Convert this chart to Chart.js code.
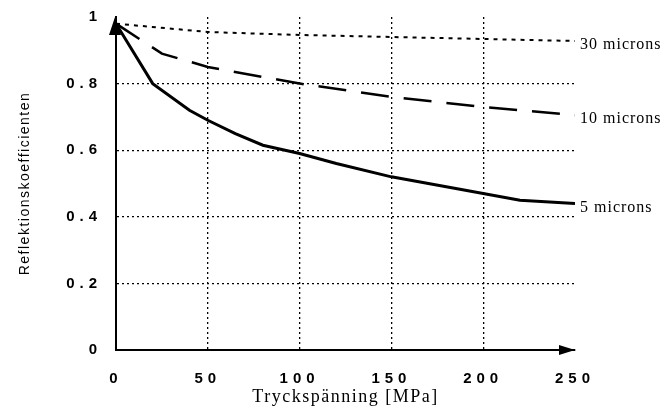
<!DOCTYPE html>
<html>
<head>
<meta charset="utf-8">
<script src="https://cdn.jsdelivr.net/npm/chart.js@4"></script>
<style>
  html, body { margin: 0; padding: 0; background: #fff; }
  canvas { display: block; }
</style>
</head>
<body>
<canvas id="chart" width="662" height="412"></canvas>
<script>
var micron5X = [0, 20, 40, 50, 65, 80, 100, 120, 150, 200, 220, 250];
var micron5Y = [0.98, 0.80, 0.72, 0.69, 0.65, 0.615, 0.59, 0.56, 0.52, 0.47, 0.45, 0.44];
var micron10X = [0, 25, 50, 100, 150, 200, 250];
var micron10Y = [0.98, 0.89, 0.85, 0.80, 0.76, 0.73, 0.705];
var micron30X = [0, 50, 100, 150, 200, 250];
var micron30Y = [0.98, 0.955, 0.946, 0.94, 0.934, 0.928];
var seriesNames = ["5 microns", "10 microns", "30 microns"];
var xTitle = "Tryckspänning [MPa]";
var yTitle = "Reflektionskoefficienten";

// the scanned original has widely spaced tick digits, so a linear scale that spaces its text
class SpacedScale extends Chart.LinearScale {
    drawLabels(area) {
        this.ctx.save();
        this.ctx.letterSpacing = "5px";
        super.drawLabels(area);
        this.ctx.restore();
    }
    drawTitle() {
        this.ctx.save();
        this.ctx.letterSpacing = "1.5px";
        super.drawTitle();
        this.ctx.restore();
    }
}
SpacedScale.id = "spaced";
SpacedScale.defaults = Chart.LinearScale.defaults;
Chart.register(SpacedScale);

function toPoints(xs, ys) {
    return xs.map((x, i) => ({x: x, y: ys[i]}));
}

function createSeries(name, xs, ys, width, dash) {
    return {
        label: name,
        data: toPoints(xs, ys),
        borderColor: "#000",
        borderWidth: width,
        borderDash: dash,
        pointRadius: 0,
        tension: 0,
        fill: false
    };
}

// arrows on the axes and the series names at the line ends
var decorations = {
    id: "decorations",
    afterDraw: function(chart) {
        var ctx = chart.ctx;
        var xs = chart.scales.x, ys = chart.scales.y;
        var x0 = xs.getPixelForValue(0), y0 = ys.getPixelForValue(0);
        var xEnd = xs.getPixelForValue(250), yTop = ys.getPixelForValue(1);
        ctx.save();
        ctx.fillStyle = "#000";
        ctx.beginPath();
        ctx.moveTo(x0 - 1, yTop);
        ctx.lineTo(x0 - 7, yTop + 18);
        ctx.lineTo(x0 + 5, yTop + 18);
        ctx.closePath();
        ctx.fill();
        ctx.beginPath();
        ctx.moveTo(xEnd, y0);
        ctx.lineTo(xEnd - 16, y0 - 5);
        ctx.lineTo(xEnd - 16, y0 + 5);
        ctx.closePath();
        ctx.fill();

        ctx.font = "16px 'Liberation Serif', 'Times New Roman', serif";
        ctx.letterSpacing = "1px";
        ctx.textAlign = "left";
        ctx.textBaseline = "middle";
        chart.data.datasets.forEach(ds => {
            var last = ds.data[ds.data.length - 1];
            ctx.fillText(ds.label, xs.getPixelForValue(last.x) + 5, ys.getPixelForValue(last.y) + 4);
        });
        ctx.restore();
    }
};

function gridColor(edge) {
    return c => (c.tick && (c.tick.value === 0 || c.tick.value === edge)) ? "rgba(0,0,0,0)" : "#000";
}

var tickFont = {family: "'Liberation Sans', Arial, sans-serif", size: 15, weight: "bold"};

new Chart(document.getElementById("chart").getContext("2d"), {
    type: "line",
    data: {
        datasets: [
            createSeries(seriesNames[0], micron5X, micron5Y, 3, []),
            createSeries(seriesNames[1], micron10X, micron10Y, 2.5, [28, 15]),
            createSeries(seriesNames[2], micron30X, micron30Y, 2, [4, 5])
        ]
    },
    options: {
        responsive: false,
        animation: false,
        layout: {padding: {top: 17, right: 87, left: 0, bottom: 0}},
        plugins: {legend: {display: false}, tooltip: {enabled: false}},
        scales: {
            x: {
                type: "spaced",
                min: 0, max: 250,
                afterFit: s => { s.height = 62; },
                ticks: {stepSize: 50, color: "#000", padding: 20, font: tickFont},
                grid: {color: gridColor(250), lineWidth: 1.3, drawTicks: false},
                border: {display: true, color: "#000", width: 2, dash: [2, 3]},
                title: {display: true, text: xTitle, color: "#000", padding: {top: 0, bottom: 4}, font: {family: "'Liberation Serif', 'Times New Roman', serif", size: 18}}
            },
            y: {
                type: "spaced",
                min: 0, max: 1,
                afterFit: s => { s.width = 116; s.paddingTop = 0; s.paddingBottom = 0; },
                ticks: {stepSize: 0.2, color: "#000", padding: 14, font: tickFont,
                    callback: v => String(Math.round(v * 10) / 10)},
                grid: {color: gridColor(1), lineWidth: 1.3, drawTicks: false},
                border: {display: true, color: "#000", width: 2, dash: [2, 3]},
                title: {display: true, text: yTitle, color: "#000", padding: {top: 17, bottom: 0}, font: {family: "'Liberation Sans', Arial, sans-serif", size: 14}}
            }
        }
    },
    plugins: [decorations]
});
</script>
</body>
</html>
